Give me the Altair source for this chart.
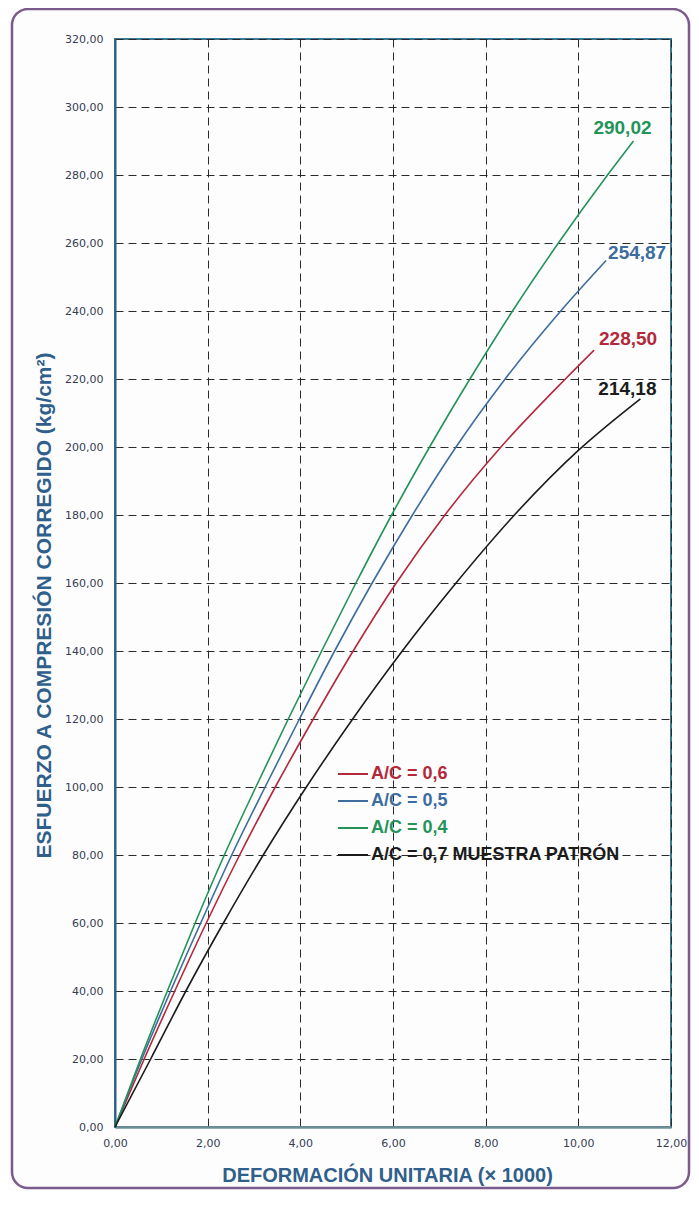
import altair as alt
import pandas as pd

series_names = ["A/C = 0,6", "A/C = 0,5", "A/C = 0,4", "A/C = 0,7 MUESTRA PATRÓN"]
series_colors = ["#b3283a", "#3d6c9e", "#23935a", "#1b1b1b"]
end_labels = ["228,50", "254,87", "290,02", "214,18"]

# A/C = 0,6 (red)
x_06 = [0, 0.63, 1.29, 1.97, 2.69, 3.46, 4.28, 5.14, 6.07, 7.12, 8.33, 9.72, 10.34]
y_06 = [0, 20, 40, 60, 80, 100, 120, 140, 160, 180, 200, 220, 228.50]
# A/C = 0,5 (blue)
x_05 = [0, 0.58, 1.20, 1.85, 2.52, 3.24, 3.98, 4.74, 5.55, 6.42, 7.36, 8.42, 9.62, 10.60]
y_05 = [0, 20, 40, 60, 80, 100, 120, 140, 160, 180, 200, 220, 240, 254.87]
# A/C = 0,4 (green)
x_04 = [0, 0.55, 1.13, 1.73, 2.36, 3.04, 3.74, 4.46, 5.20, 5.97, 6.79, 7.66, 8.58, 9.57, 10.63, 11.19]
y_04 = [0, 20, 40, 60, 80, 100, 120, 140, 160, 180, 200, 220, 240, 260, 280, 290.02]
# A/C = 0,7 muestra patrón (black)
x_07 = [0, 0.77, 1.53, 2.34, 3.20, 4.13, 5.13, 6.20, 7.36, 8.62, 10.00, 11.34]
y_07 = [0, 20, 40, 60, 80, 100, 120, 140, 160, 180, 199, 214.18]

x_ticks = [0, 2, 4, 6, 8, 10, 12]
y_ticks = [0, 20, 40, 60, 80, 100, 120, 140, 160, 180, 200, 220, 240, 260, 280, 300, 320]

xs = [x_06, x_05, x_04, x_07]
ys = [y_06, y_05, y_04, y_07]

rows = []
for name, xv, yv in zip(series_names, xs, ys):
    for i, (a, b) in enumerate(zip(xv, yv)):
        rows.append({"serie": name, "x": a, "y": b, "idx": i})
df = pd.DataFrame(rows)

ends = pd.DataFrame({
    "serie": series_names,
    "x": [v[-1] for v in xs],
    "y": [v[-1] for v in ys],
    "label": end_labels,
})

W, H = 556, 1088
label_expr = "replace(format(datum.value, '.2f'), '.', ',')"
title_color = "#2f5f8a"
tick_color = "#363c52"

color_expr = (
    "datum.label == 'A/C = 0,6' ? '#b3283a' : "
    "datum.label == 'A/C = 0,5' ? '#3d6c9e' : "
    "datum.label == 'A/C = 0,4' ? '#23935a' : '#1b1b1b'"
)

x_enc = alt.X(
    "x:Q",
    scale=alt.Scale(domain=[0, 12], nice=False),
    axis=alt.Axis(
        values=x_ticks, labelExpr=label_expr, title="DEFORMACIÓN UNITARIA (× 1000)",
        grid=True, gridDash=[8, 5], gridColor="#2a2a2a", gridWidth=1,
        domainColor="#6f8f98", domainWidth=2.5, ticks=False, labelFlush=False,
        labelFont="DejaVu Sans", labelFontSize=11, labelColor=tick_color, labelPadding=10,
        titleFont="Liberation Sans", titleFontSize=20, titleFontWeight="bold",
        titleColor=title_color, titlePadding=17, titleX=272,
    ),
)
y_enc = alt.Y(
    "y:Q",
    scale=alt.Scale(domain=[0, 320], nice=False),
    axis=alt.Axis(
        values=y_ticks, labelExpr=label_expr, title="ESFUERZO A COMPRESIÓN CORREGIDO (kg/cm²)",
        grid=True, gridDash=[8, 5], gridColor="#2a2a2a", gridWidth=1,
        domainColor="#2c5f80", domainWidth=2, ticks=False, labelFlush=False,
        labelFont="DejaVu Sans", labelFontSize=11, labelColor=tick_color, labelPadding=12,
        titleFont="Liberation Sans", titleFontSize=21, titleFontWeight="bold",
        titleColor=title_color, titlePadding=10, titleY=566,
    ),
)

frame = alt.Chart(pd.DataFrame({"k": [0]})).mark_rect(
    fill="transparent", stroke="#7b5a8c", strokeWidth=2.5, cornerRadius=16
).encode(
    x=alt.value(-103), x2=alt.value(W + 18), y=alt.value(-30), y2=alt.value(H + 61)
)

lines = alt.Chart(df).mark_line(interpolate="monotone", strokeWidth=1.6).encode(
    x=x_enc,
    y=y_enc,
    order="idx:Q",
    color=alt.Color(
        "serie:N",
        scale=alt.Scale(domain=series_names, range=series_colors),
        legend=alt.Legend(
            title=None, orient="none", legendX=222, legendY=719,
            symbolType="stroke", symbolSize=900, symbolStrokeWidth=2,
            labelFont="Liberation Sans", labelFontSize=18, labelFontWeight="bold",
            labelColor={"expr": color_expr}, rowPadding=2, labelOffset=2,
            labelLimit=400, fillColor="transparent",
        ),
    ),
)

offsets = {
    "A/C = 0,6": (34, -11),
    "A/C = 0,5": (31, -7),
    "A/C = 0,4": (-11, -13),
    "A/C = 0,7 MUESTRA PATRÓN": (-13, -10),
}
texts = []
for name, col in zip(series_names, series_colors):
    dx, dy = offsets[name]
    texts.append(
        alt.Chart(ends).transform_filter(alt.datum.serie == name).mark_text(
            dx=dx, dy=dy, font="Liberation Sans", fontSize=19, fontWeight="bold",
            color=col, align="center", baseline="middle"
        ).encode(x="x:Q", y="y:Q", text="label:N")
    )

chart = alt.layer(frame, lines, *texts).properties(
    width=W, height=H,
    autosize=alt.AutoSizeParams(type="none"),
    padding={"left": 107, "top": 31, "right": 20, "bottom": 64},
    background="#fdfdfe",
).configure_view(
    stroke="#3b7a95", strokeWidth=2
)

chart.save("out.html", embed_options={"renderer": "svg", "actions": False})
